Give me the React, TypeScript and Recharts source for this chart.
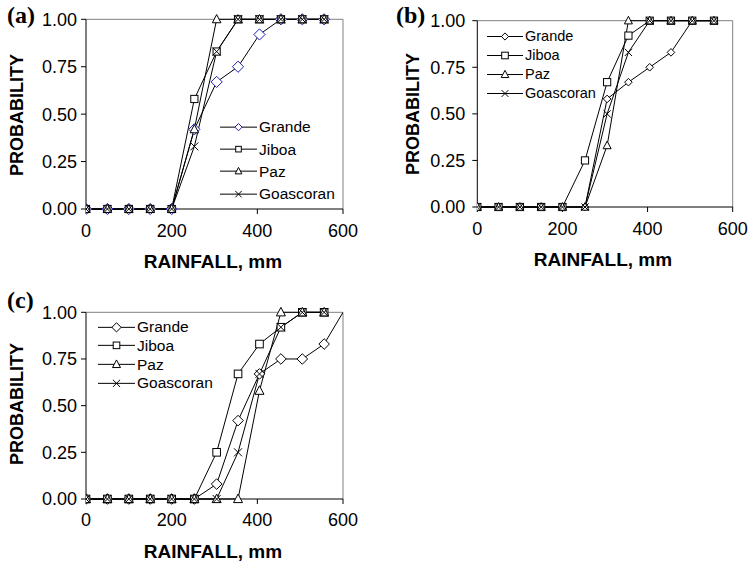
import React from "react";
import { LineChart, Line, XAxis, YAxis, ReferenceLine, Legend } from "recharts";

const rainfall = [0, 50, 100, 150, 200, 253, 305, 355, 405, 455, 505, 556];
const rainfallC = [0, 50, 100, 150, 200, 253, 305, 355, 405, 455, 505, 556, 600];
const seriesNames = ["Grande", "Jiboa", "Paz", "Goascoran"];
const xTicks = [0, 200, 400, 600];
const yTicks = [0, 0.25, 0.5, 0.75, 1];

// (a)
const grandeA = [0, 0, 0, 0, 0, 0.42, 0.67, 0.75, 0.92, 1, 1, 1];
const jiboaA = [0, 0, 0, 0, 0, 0.58, 0.83, 1, 1, 1, 1, 1];
const pazA = [0, 0, 0, 0, 0, 0.42, 1, 1, 1, 1, 1, 1];
const goascoranA = [0, 0, 0, 0, 0, 0.33, 0.83, 1, 1, 1, 1, 1];

// (b)
const grandeB = [0, 0, 0, 0, 0, 0, 0.58, 0.67, 0.75, 0.83, 1, 1];
const jiboaB = [0, 0, 0, 0, 0, 0.25, 0.67, 0.92, 1, 1, 1, 1];
const pazB = [0, 0, 0, 0, 0, 0, 0.33, 1, 1, 1, 1, 1];
const goascoranB = [0, 0, 0, 0, 0, 0, 0.5, 0.83, 1, 1, 1, 1];

// (c)
const grandeC = [0, 0, 0, 0, 0, 0, 0.08, 0.42, 0.67, 0.75, 0.75, 0.83, 1];
const jiboaC = [0, 0, 0, 0, 0, 0, 0.25, 0.67, 0.83, 0.92, 1, 1];
const pazC = [0, 0, 0, 0, 0, 0, 0, 0, 0.58, 1, 1, 1];
const goascoranC = [0, 0, 0, 0, 0, 0, 0, 0.25, 0.67, 0.92, 1, 1];

const buildRows = (xs: number[], cols: number[][]) =>
  xs.map((x, i) => {
    const row: any = { rain: x };
    seriesNames.forEach((n, k) => {
      if (cols[k][i] !== undefined) row[n] = cols[k][i];
    });
    return row;
  });

const SANS = '"Liberation Sans", Arial, sans-serif';
const SERIF = '"Liberation Serif", "Times New Roman", serif';

const Marker = ({ kind, x, y, s, color }: any) => {
  if (kind === "Grande")
    return (
      <polygon
        points={`${x},${y - s} ${x + s},${y} ${x},${y + s} ${x - s},${y}`}
        fill="#fff"
        stroke={color}
      />
    );
  if (kind === "Jiboa")
    return <rect x={x - s} y={y - s} width={s * 2} height={s * 2} fill="#fff" stroke="#000" />;
  if (kind === "Paz")
    return (
      <polygon
        points={`${x},${y - s * 1.1} ${x + s},${y + s * 0.8} ${x - s},${y + s * 0.8}`}
        fill="#fff"
        stroke="#000"
      />
    );
  return (
    <g stroke="#000">
      <line x1={x - s} y1={y - s} x2={x + s} y2={y + s} />
      <line x1={x - s} y1={y + s} x2={x + s} y2={y - s} />
    </g>
  );
};

const makeDot = (kind: string, s: number, color: string) => (props: any) => {
  const { cx, cy, index, payload } = props;
  const key = `${kind}-${index}`;
  if (cx == null || cy == null || payload?.rain >= 600) return <g key={key} />;
  return (
    <g key={key}>
      <Marker kind={kind} x={cx} y={cy} s={s} color={color} />
    </g>
  );
};

const renderLegend = (cfg: any) => ({ payload }: any) => {
  // keep the series order, not alphabetical
  const items = [...(payload || [])].sort(
    (a: any, b: any) => seriesNames.indexOf(a.value) - seriesNames.indexOf(b.value)
  );
  return (
    <div style={{ fontFamily: SANS, fontSize: cfg.fontSize, color: "#000" }}>
      {items.map((e: any) => (
        <div key={e.value} style={{ display: "flex", alignItems: "center", height: cfg.rowH }}>
          <svg width={cfg.lineW} height={cfg.rowH} style={{ display: "block" }}>
            <line x1={0} x2={cfg.lineW} y1={cfg.rowH / 2} y2={cfg.rowH / 2} stroke="#000" />
            <Marker
              kind={e.value}
              x={cfg.lineW / 2}
              y={cfg.rowH / 2}
              s={cfg.sizes[e.value]}
              color={e.value === "Grande" ? cfg.grandeColor : "#000"}
            />
          </svg>
          <span style={{ marginLeft: 2, lineHeight: 1 }}>{e.value}</span>
        </div>
      ))}
    </div>
  );
};

const Panel = ({ cfg }: any) => {
  const { left, top, width, height, plot, data } = cfg;
  const xAxisH = 40;
  return (
    <div style={{ position: "absolute", left, top, width, height }}>
      <LineChart
        width={width}
        height={height}
        data={data}
        margin={{ top: plot.t, left: 0, right: width - plot.r, bottom: height - plot.b - xAxisH }}
      >
        <XAxis
          dataKey="rain"
          type="number"
          domain={[0, 600]}
          ticks={xTicks}
          height={xAxisH}
          allowDataOverflow
          stroke="#000"
          tickSize={5}
          tickMargin={cfg.xTickMargin}
          tick={{ fill: "#000", fontSize: 18, fontFamily: SANS }}
        />
        <YAxis
          type="number"
          domain={[0, 1]}
          ticks={yTicks}
          width={plot.l}
          stroke="#000"
          tickSize={5}
          tickMargin={cfg.yTickMargin}
          tickFormatter={(v: number) => v.toFixed(2)}
          tick={{ fill: "#000", fontSize: 18, fontFamily: SANS }}
        />
        <ReferenceLine y={1} stroke="#808080" />
        <ReferenceLine x={600} stroke="#808080" />
        {seriesNames.map((n) => (
          <Line
            key={n}
            dataKey={n}
            name={n}
            type="linear"
            stroke="#000"
            strokeWidth={1}
            dot={makeDot(n, cfg.sizes[n], n === "Grande" ? cfg.grandeColor : "#000")}
            activeDot={false}
            isAnimationActive={false}
          />
        ))}
        <Legend
          layout="vertical"
          align="center"
          verticalAlign="middle"
          content={renderLegend(cfg.legend)}
          wrapperStyle={{
            left: cfg.legend.x,
            top: cfg.legend.y - cfg.legend.rowH / 2,
            width: 140,
          }}
        />
      </LineChart>
      <div
        style={{
          position: "absolute",
          left: cfg.letter.x,
          top: cfg.letter.y,
          fontFamily: SERIF,
          fontWeight: "bold",
          fontSize: 24,
          lineHeight: "23px",
        }}
      >
        {cfg.letterText}
      </div>
      <div
        style={{
          position: "absolute",
          left: cfg.prob.x,
          top: cfg.prob.y,
          transform: "translate(-50%, -50%) rotate(-90deg)",
          fontFamily: SANS,
          fontWeight: "bold",
          fontSize: 18,
          whiteSpace: "nowrap",
          lineHeight: 1,
        }}
      >
        PROBABILITY
      </div>
      <div
        style={{
          position: "absolute",
          left: cfg.rain.x,
          top: cfg.rain.y,
          transform: "translate(-50%, -50%)",
          fontFamily: SANS,
          fontWeight: "bold",
          fontSize: 19,
          whiteSpace: "nowrap",
          lineHeight: 1,
        }}
      >
        RAINFALL, mm
      </div>
    </div>
  );
};

const panels = [
  {
    left: 0,
    top: 0,
    width: 370,
    height: 290,
    plot: { l: 86, t: 19.3, r: 343, b: 209 },
    data: buildRows(rainfall, [grandeA, jiboaA, pazA, goascoranA]),
    xTickMargin: 10,
    yTickMargin: 4,
    grandeColor: "#1c1cb8",
    sizes: { Grande: 5.6, Jiboa: 3.6, Paz: 4.3, Goascoran: 4 },
    legend: {
      x: 220,
      y: 127,
      rowH: 22.3,
      fontSize: 15.5,
      lineW: 37,
      grandeColor: "#1c1cb8",
      sizes: { Grande: 3.6, Jiboa: 2.8, Paz: 3.4, Goascoran: 3.2 },
    },
    letterText: "(a)",
    letter: { x: 7, y: 3.7 },
    prob: { x: 17, y: 115 },
    rain: { x: 213, y: 261 },
  },
  {
    left: 380,
    top: 0,
    width: 368,
    height: 290,
    plot: { l: 97.3, t: 20.7, r: 352.7, b: 207 },
    data: buildRows(rainfall, [grandeB, jiboaB, pazB, goascoranB]),
    xTickMargin: 10,
    yTickMargin: 7,
    grandeColor: "#000",
    sizes: { Grande: 3.8, Jiboa: 3.6, Paz: 4, Goascoran: 3.6 },
    legend: {
      x: 107,
      y: 36,
      rowH: 19,
      fontSize: 14.5,
      lineW: 36,
      grandeColor: "#000",
      sizes: { Grande: 3.6, Jiboa: 3.3, Paz: 3.8, Goascoran: 3.4 },
    },
    letterText: "(b)",
    letter: { x: 16, y: 3.7 },
    prob: { x: 33, y: 114 },
    rain: { x: 223, y: 259 },
  },
  {
    left: 0,
    top: 280,
    width: 370,
    height: 284,
    plot: { l: 86, t: 32.3, r: 343, b: 219 },
    data: buildRows(rainfallC, [grandeC, jiboaC, pazC, goascoranC]),
    xTickMargin: 9,
    yTickMargin: 4,
    grandeColor: "#000",
    sizes: { Grande: 5.3, Jiboa: 3.8, Paz: 4.5, Goascoran: 4 },
    legend: {
      x: 98,
      y: 47,
      rowH: 18.7,
      fontSize: 15.5,
      lineW: 37,
      grandeColor: "#000",
      sizes: { Grande: 4.6, Jiboa: 3.3, Paz: 4, Goascoran: 3.6 },
    },
    letterText: "(c)",
    letter: { x: 7, y: 8.7 },
    prob: { x: 17, y: 124 },
    rain: { x: 213, y: 271 },
  },
];

export default function App() {
  return (
    <div
      style={{
        position: "absolute",
        left: 0,
        top: 0,
        width: 748,
        height: 564,
        background: "#fff",
        fontFamily: SANS,
      }}
    >
      {panels.map((p) => (
        <Panel key={p.letterText} cfg={p} />
      ))}
    </div>
  );
}
